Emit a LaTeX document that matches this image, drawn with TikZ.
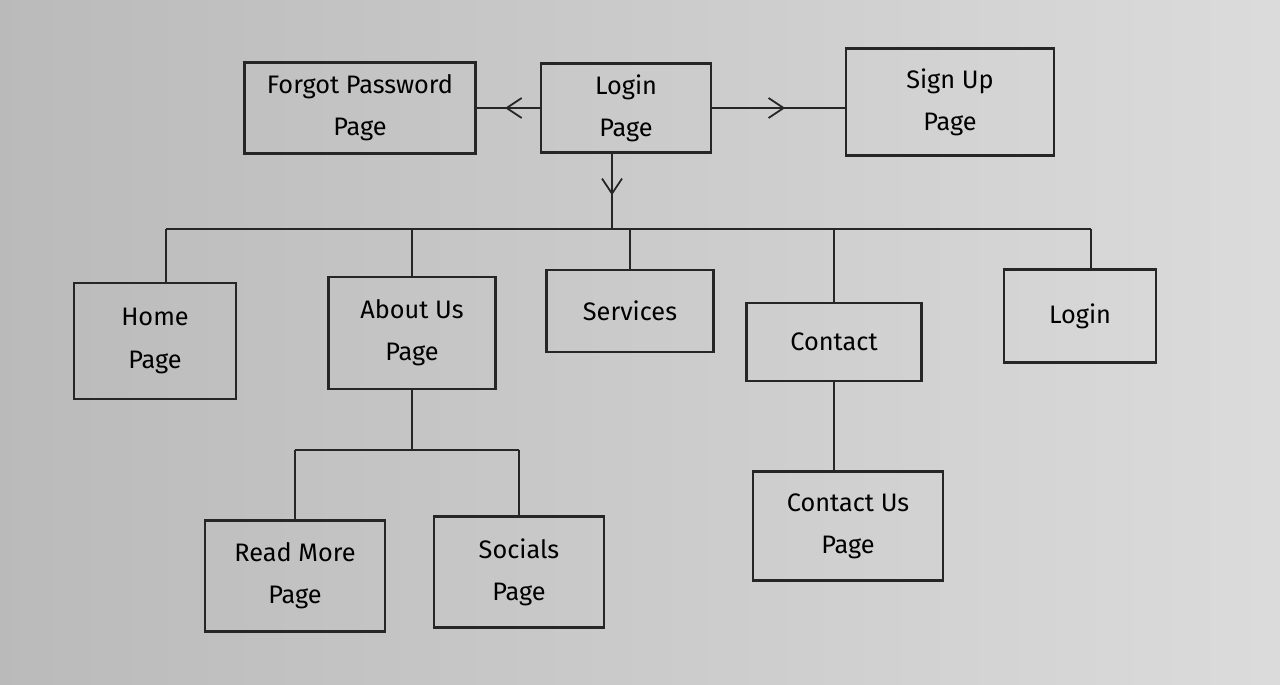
\documentclass[tikz,border=0pt]{standalone}
\usepackage{fontspec}
\setmainfont{Fira Sans}
\usetikzlibrary{arrows.meta,decorations.markings}

\tikzset{
  page/.style={draw=black!85,line width=1.5pt,fill=none,align=center,font=\Large,inner sep=2pt},
  link/.style={draw=black!85,line width=1.4pt},
  midarrow/.style={link,postaction={decorate},decoration={markings,
      mark=at position 0.55 with {\arrow[line width=1pt]{Straight Barb[length=3mm,width=4mm]}}}}
}

\begin{document}
\begin{tikzpicture}[x=0.02cm,y=-0.02cm]
			\useasboundingbox (0,0) rectangle (1280,685);
			\shade [left color=black!27,right color=black!14] (0,0) rectangle (1280,685);
			% top row
			\node [page,minimum width=4.62cm,minimum height=1.82cm] (forgot) at (360,108) {Forgot Password\\[6pt]Page};
			\node [page,minimum width=3.4cm,minimum height=1.78cm] (loginpg) at (626,108) {Login\\[6pt]Page};
			\node [page,minimum width=4.16cm,minimum height=2.14cm] (signup) at (950,102) {Sign Up\\[6pt]Page};
			% second row
			\node [page,minimum width=3.24cm,minimum height=2.32cm] (home) at (155,341) {Home\\[6pt]Page};
			\node [page,minimum width=3.34cm,minimum height=2.24cm] (about) at (412,333) {About Us\\[6pt]Page};
			\node [page,minimum width=3.34cm,minimum height=1.64cm] (services) at (630,311) {Services};
			\node [page,minimum width=3.5cm,minimum height=1.56cm] (contact) at (834,342) {Contact};
			\node [page,minimum width=3.04cm,minimum height=1.86cm] (login) at (1080,316) {Login};
			% third row
			\node [page,minimum width=3.6cm,minimum height=2.22cm] (readmore) at (295,576) {Read More\\[6pt]Page};
			\node [page,minimum width=3.4cm,minimum height=2.22cm] (socials) at (519,572) {Socials\\[6pt]Page};
			\node [page,minimum width=3.8cm,minimum height=2.18cm] (contactus) at (848,526) {Contact Us\\[6pt]Page};
			% connectors
			\coordinate (busL) at (166,229);
			\coordinate (busR) at (1091,229);
			\coordinate (busT) at (612,229);
			\coordinate (sub) at (412,450);
			\draw [midarrow] (loginpg.west) -- (forgot.east |- loginpg.west);
			\draw [midarrow] (loginpg.east) -- (signup.west |- loginpg.east);
			\draw [midarrow] (loginpg.south -| busT) -- (busT);
			\draw [link] (busL) -- (busR);
			\draw [link] (busL) -- (busL |- home.north);
			\draw [link] (about.north |- busL) -- (about.north);
			\draw [link] (services.north |- busL) -- (services.north);
			\draw [link] (contact.north |- busL) -- (contact.north);
			\draw [link] (busR) -- (busR |- login.north);
			\draw [link] (about.south) -- (sub);
			\draw [link] (readmore.north |- sub) -- (socials.north |- sub);
			\draw [link] (readmore.north |- sub) -- (readmore.north);
			\draw [link] (socials.north |- sub) -- (socials.north);
			\draw [link] (contact.south) -- (contactus.north -| contact.south);
			\end{tikzpicture}
\end{document}
